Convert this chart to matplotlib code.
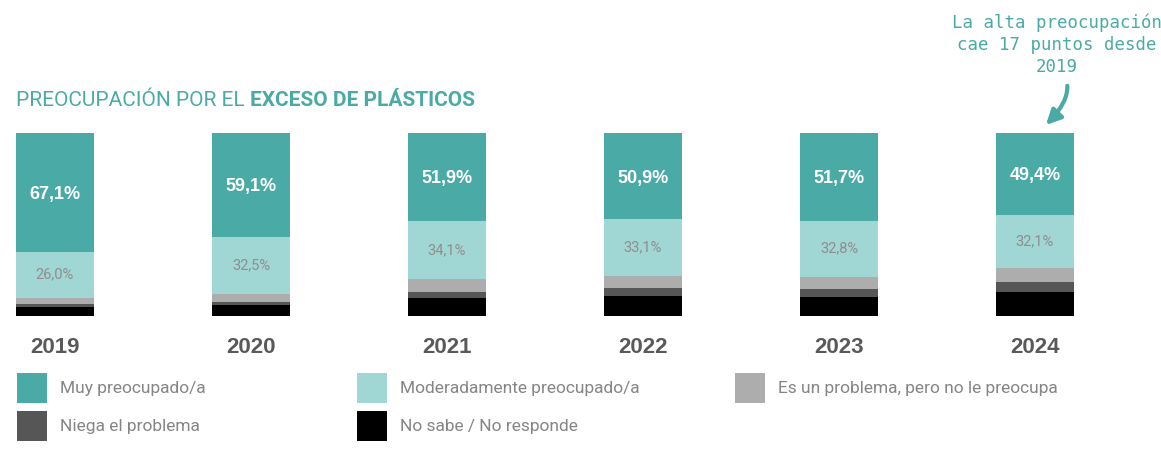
import matplotlib.pyplot as plt
from matplotlib.patches import Rectangle
import numpy as np

# data (raw values; each bar is drawn as 100%)
years = ["2019", "2020", "2021", "2022", "2023", "2024"]
muy = [67.1, 59.1, 51.9, 50.9, 51.7, 49.4]
moderado = [26.0, 32.5, 34.1, 33.1, 32.8, 32.1]
no_preocupa = [3.4, 4.5, 7.6, 7.2, 7.2, 8.9]
niega = [2.1, 1.7, 3.3, 4.7, 4.7, 5.8]
no_sabe = [4.9, 6.2, 10.7, 11.9, 11.3, 14.5]

labels = ["Muy preocupado/a", "Moderadamente preocupado/a",
          "Es un problema, pero no le preocupa", "Niega el problema",
          "No sabe / No responde"]
colors = ["#4AABA6", "#A0D6D3", "#ADADAD", "#565656", "#000000"]

TEAL = "#4AABA6"


def main():
    series = np.array([no_sabe, niega, no_preocupa, moderado, muy])
    totals = series.sum(axis=0)
    shares = series / totals * 100  # 100% stacked
    seg_colors = colors[::-1]

    fig = plt.figure(figsize=(11.61, 4.5), dpi=100)
    W, H = 1161, 450
    ax = fig.add_axes([15.8 / W, 1 - 316 / H, (1074.2 - 15.8) / W, 183 / H])

    x = np.arange(len(years))
    bottom = np.zeros(len(years))
    for vals, c in zip(shares, seg_colors):
        ax.bar(x, vals, bottom=bottom, width=0.4, color=c, linewidth=0)
        bottom += vals

    # value labels in the two top segments
    base_mod = shares[0] + shares[1] + shares[2]
    for i in range(len(years)):
        ym = base_mod[i] + shares[3][i] / 2
        ax.text(i, ym, f"{moderado[i]:.1f}%".replace(".", ","), ha="center",
                va="center", fontsize=10.5, color="#8E8E8E", family="Roboto")
        yt = base_mod[i] + shares[3][i] + shares[4][i] / 2
        ax.text(i, yt - 1, f"{muy[i]:.1f}%".replace(".", ","), ha="center",
                va="center", fontsize=13, color="white", fontweight="bold",
                family="Liberation Sans")
        ax.text(i, -0.17, years[i], transform=ax.get_xaxis_transform(),
                ha="center", va="center", fontsize=16, fontweight="bold",
                color="#595959", family="Liberation Sans")

    ax.set_xlim(-0.2, 5.2)
    ax.set_ylim(0, 100)
    ax.axis("off")

    # heading
    t1 = fig.text(16 / W, 1 - 101 / H, "PREOCUPACIÓN POR EL ", fontsize=15,
                  color=TEAL, family="Roboto", va="center")
    fig.canvas.draw()
    bb = t1.get_window_extent()
    fig.text(bb.x1 / W, 1 - 101 / H, "EXCESO DE PLÁSTICOS", fontsize=15,
             color=TEAL, family="Roboto", fontweight="bold", va="center")

    # annotation
    fig.text(1057 / W, 1 - 45 / H,
             "La alta preocupación\ncae 17 puntos desde\n2019",
             ha="center", va="center", fontsize=12.5, color=TEAL,
             family="DejaVu Sans Mono", linespacing=1.3)
    fig.add_artist(plt.Annotation(
        "", xy=(1044 / W, 1 - 127 / H), xytext=(1067 / W, 1 - 83 / H),
        xycoords="figure fraction", textcoords="figure fraction",
        arrowprops=dict(arrowstyle="-|>", color=TEAL, lw=3,
                        mutation_scale=22,
                        connectionstyle="angle3,angleA=-80,angleB=45")))

    # legend
    pos = [(17, 373), (357, 373), (735, 373), (17, 411), (357, 411)]
    for (px, py), lab, c in zip(pos, labels, colors):
        fig.add_artist(Rectangle((px / W, 1 - (py + 30) / H), 30 / W, 30 / H,
                                 transform=fig.transFigure, color=c, lw=0))
        fig.text((px + 43) / W, 1 - (py + 16) / H, lab, fontsize=12.5,
                 color="#858585", family="Roboto", va="center")

    fig.savefig("out.png", dpi=100)


if __name__ == "__main__":
    main()
